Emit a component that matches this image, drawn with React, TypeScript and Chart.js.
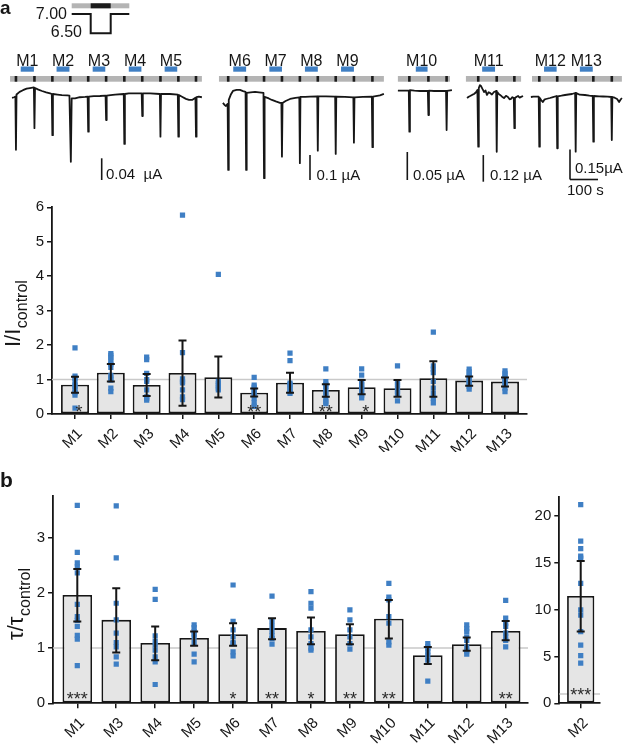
import React, { useEffect, useRef } from "react";
import { Chart, registerables } from "chart.js";

Chart.register(...registerables);

const FONT = "'Liberation Sans', Arial, Helvetica, sans-serif";
const INK = "#161616";
const BLUE = "#3f7fc4";
const BAR_FILL = "#e5e5e5";
const REF_GREY = "#c9c9c9";
const PROTO_GREY = "#b4b4b4";
const STAR_INK = "#2b2b2b";

// ================= Panel a: example recordings =================
// time in s, current in µA relative to each recording's baseline
const trace1 = [[43,-0.002],[50,-0.001],[55,0.0],[57,-0.098],[59,0.004],[70,0.009],[82,0.012],[95,0.015],[107,0.016],[121,0.017],[123,-0.058],[125,0.016],[137,0.013],[150,0.0105],[165,0.008],[179,0.006],[185,0.005],[187,-0.071],[189,0.005],[205,0.004],[221,0.003],[240,0.0025],[248,0.002],[253,-0.12],[256,-0.003],[268,-0.003],[285,-0.001],[304,-0.0005],[313,0.0],[315,-0.0645],[317,0.0],[335,0.001],[357,0.0013],[377,0.002],[379,-0.043],[381,0.002],[395,0.003],[411,0.004],[442,0.005],[444,-0.087],[446,0.005],[460,0.006],[475,0.006],[506,0.006],[508,-0.0356],[510,0.006],[536,0.006],[571,0.005],[573,-0.0737],[575,0.005],[590,0.005],[607,0.005],[635,0.004],[637,-0.0737],[639,0.003],[650,0.0],[664,-0.004],[675,-0.006],[686,-0.006],[698,-0.002],[700,-0.0737],[702,-0.001],[710,0.0],[721,-0.001]];
const trace2 = [[796,-0.025],[802,-0.033],[807,-0.037],[813,-0.029],[815,-0.293],[817,-0.013],[825,0.01],[832,0.023],[845,0.027],[857,0.027],[868,0.022],[877,0.019],[879,-0.293],[881,0.015],[895,0.017],[911,0.019],[925,0.017],[941,0.015],[943,-0.326],[945,-0.001],[960,-0.007],[971,-0.013],[985,-0.019],[1000,-0.025],[1005,-0.025],[1007,-0.24],[1009,-0.025],[1020,-0.017],[1036,-0.009],[1055,-0.005],[1069,-0.003],[1071,-0.266],[1073,-0.001],[1090,-0.001],[1107,0.0],[1133,0.001],[1135,-0.216],[1137,0.001],[1164,0.001],[1197,0.0],[1199,-0.229],[1201,0.0],[1232,-0.001],[1262,-0.003],[1264,-0.184],[1266,-0.003],[1296,-0.001],[1328,0.0],[1330,-0.202],[1332,0.0],[1357,0.005],[1371,0.011]];
const trace3 = [[1421,0.0],[1440,0.0],[1460,0.0],[1462,-0.0732],[1464,0.001],[1480,0.0],[1500,-0.0005],[1528,-0.0005],[1530,-0.0434],[1532,0.0],[1550,-0.0005],[1571,-0.0005],[1593,-0.0005],[1595,-0.0702],[1597,-0.0005],[1614,0.001]];
const trace4 = [[1668,-0.006],[1674,0.0],[1679,0.003],[1686,0.008],[1693,0.012],[1700,0.02],[1705,0.03],[1707,0.03],[1708,-0.225],[1710,0.039],[1714,0.052],[1718,0.048],[1723,0.035],[1729,0.021],[1734,0.028],[1739,0.008],[1745,0.02],[1750,0.017],[1757,0.01],[1764,0.021],[1770,0.024],[1772,0.026],[1774,-0.248],[1776,0.021],[1780,0.014],[1786,0.008],[1793,0.0],[1800,-0.006],[1807,0.004],[1814,-0.001],[1820,-0.012],[1825,-0.01],[1830,-0.002],[1835,-0.006],[1837,-0.142],[1839,-0.006],[1845,0.0],[1850,0.003],[1856,-0.004],[1861,-0.001],[1868,0.003]];
const trace5 = [[1896,-0.0015],[1905,0.0],[1914,0.0],[1924,0.0],[1926,-0.25],[1928,-0.0065],[1934,-0.02],[1939,-0.0265],[1944,-0.015],[1950,-0.0115],[1964,-0.0065],[1975,-0.002],[1988,0.0035],[1990,-0.258],[1992,0.002],[2005,0.005],[2018,0.0085],[2030,0.011],[2043,0.0135],[2054,0.0185],[2056,-0.275],[2058,0.0185],[2070,0.01],[2089,0.0085],[2105,0.005],[2117,0.0035],[2119,-0.225],[2121,0.0035],[2140,0.002],[2154,0.001],[2170,0.0],[2183,-0.0015],[2185,-0.2165],[2187,-0.0015],[2195,-0.005],[2204,-0.0115],[2211,-0.0265],[2216,-0.015],[2221,-0.0065]];

// pH 6.5 pulse times (s)
const pulses1 = [57,123,187,251,315,379,444,508,573,637,700];
const pulses2 = [815,879,943,1007,1071,1135,1199,1264,1330];
const pulses3 = [1462,1530,1595];
const pulses4 = [1708,1774,1837];
const pulses5 = [1926,1990,2056,2119,2185];
// recording (grey protocol bar) extents (s)
const recordings = [[36,721],[782,1371],[1421,1607],[1664,1861],[1900,2221]];
// modulator application windows (s)
const modLabels = ["M1","M2","M3","M4","M5","M6","M7","M8","M9","M10","M11","M12","M13"];
const modWindows = [[74,121],[202,248],[331,376],[460,505],[588,633],[833,879],[962,1007],[1089,1135],[1218,1264],[1485,1527],[1722,1768],[1943,1988],[2071,2117]];
// scale bars
const scaleBarUA = [0.04, 0.1, 0.05, 0.12, 0.15];
const scaleBarText = ["0.04  µA", "0.1 µA", "0.05 µA", "0.12 µA", "0.15µA"];
const timeBarS = 100;
const timeBarText = "100 s";
const phHigh = "7.00";
const phLow = "6.50";

// ================= Panel a: I / I_control =================
const catsA = ["M1","M2","M3","M4","M5","M6","M7","M8","M9","M10","M11","M12","M13"];
const meanA = [0.85,1.2,0.84,1.19,1.07,0.62,0.91,0.7,0.78,0.75,1.04,0.97,0.94];
const loA = [0.62,0.94,0.52,0.24,0.48,0.51,0.62,0.5,0.57,0.5,0.5,0.82,0.8];
const hiA = [1.08,1.45,1.16,2.13,1.67,0.74,1.2,0.86,0.99,0.99,1.53,1.09,1.06];
const pointsA = [
  [1.92,1.1,1.04,0.94,0.84,0.79,0.7,0.62,0.55,0.17],
  [1.75,1.7,1.63,1.55,1.45,1.35,1.12,1.05,0.98,0.75,0.65],
  [1.65,1.58,1.18,1.0,0.95,0.7,0.5,0.45,0.4],
  [5.77,1.78,1.02,0.95,0.9,0.7,0.5,0.42],
  [4.05,0.95,0.88,0.82,0.75,0.7],
  [1.06,0.84,0.78,0.7,0.62,0.55,0.46,0.33,0.22],
  [1.77,1.55,0.9,0.85,0.8,0.72,0.65,0.6],
  [1.31,0.94,0.86,0.8,0.7,0.62,0.55,0.45,0.35,0.3],
  [1.31,1.13,0.95,0.85,0.8,0.72,0.65,0.55,0.47],
  [1.4,0.92,0.85,0.75,0.65,0.6,0.38],
  [2.38,1.4,1.3,1.2,0.95,0.75,0.6,0.45,0.32],
  [1.3,1.22,1.15,1.08,1.0,0.94,0.88,0.8,0.72],
  [1.25,1.18,1.12,1.05,1.0,0.92,0.85,0.75,0.65],
];
const starsA = ["*","","","","","**","","**","*","","","",""];

// ================= Panel b: tau / tau_control =================
const catsB = ["M1","M3","M4","M5","M6","M7","M8","M9","M10","M11","M12","M13"];
const meanB = [1.96,1.51,1.09,1.18,1.25,1.36,1.31,1.25,1.53,0.87,1.07,1.31];
const loB = [1.48,0.92,0.78,1.04,1.04,1.16,1.07,1.07,1.17,0.71,0.95,1.14];
const hiB = [2.43,2.08,1.39,1.3,1.45,1.54,1.55,1.43,1.87,1.02,1.19,1.49];
const pointsB = [
  [3.58,2.73,2.54,2.47,2.36,1.79,1.57,1.5,1.39,1.23,1.16,0.68],
  [3.57,2.63,1.81,1.51,1.27,1.1,1.02,0.84,0.71],
  [2.06,1.88,1.22,1.12,1.05,0.96,0.84,0.75,0.34],
  [1.42,1.37,1.3,1.25,1.2,1.1,0.89,0.75],
  [2.14,1.48,1.33,1.2,1.1,1.08,0.93,0.86],
  [1.94,1.48,1.39,1.3,1.22,1.17,1.07],
  [2.02,1.81,1.72,1.33,1.2,1.08,1.0,0.96],
  [1.69,1.51,1.33,1.2,1.08,0.98],
  [2.17,1.92,1.87,1.57,1.45,1.11,1.05],
  [1.08,1.02,0.99,0.93,0.87,0.78,0.4],
  [1.42,1.35,1.3,1.2,1.14,1.02,0.95,0.89],
  [1.86,1.54,1.45,1.39,1.27,1.2,1.14,1.02],
];
const starsB = ["***","","","","*","**","*","**","**","","","**"];

const catsM2 = ["M2"];
const meanM2 = [11.46];
const loM2 = [7.65];
const hiM2 = [15.2];
const pointsM2 = [[21.2,17.3,16.5,15.7,15.5,12.8,9.96,9.4,7.65,6.2,5.1,4.3]];
const starsM2 = ["***"];

// ================= layout / style =================
const PX_PER_S = 0.28;
const TRACE_W = 625;
const TRACE_H = 200;
const traceAxes = [
  { base: 96.7, k: 542.5 },
  { base: 96.7, k: 250 },
  { base: 90.7, k: 560 },
  { base: 96.7, k: 222 },
  { base: 96.7, k: 200 },
];
const scaleBarPos = [
  { x: 101.7, bottom: 180, tx: 106, ty: 178.5 },
  { x: 310, bottom: 180, tx: 316.5, ty: 180 },
  { x: 407.3, bottom: 180, tx: 413, ty: 180 },
  { x: 483.3, bottom: 181.7, tx: 490, ty: 180 },
  { x: 570, bottom: 179.5, tx: 575, ty: 173 },
];

function TraceCanvas() {
  const ref = useRef<HTMLCanvasElement>(null);
  useEffect(() => {
    const traces = [trace1, trace2, trace3, trace4, trace5];
    const pulses = [...pulses1, ...pulses2, ...pulses3, ...pulses4, ...pulses5];
    const scales: any = {
      x: { type: "linear", display: false, min: 0, max: TRACE_W / PX_PER_S },
    };
    traceAxes.forEach((ax, i) => {
      scales["y" + i] = {
        type: "linear",
        display: false,
        min: -(TRACE_H - ax.base) / ax.k,
        max: ax.base / ax.k,
      };
    });
    const decor = {
      id: "traceDecor",
      afterDraw(chart: any) {
        const { ctx } = chart;
        const xs = chart.scales.x;
        const px = (t: number) => xs.getPixelForValue(t);
        ctx.save();
        // protocol bars
        ctx.fillStyle = PROTO_GREY;
        recordings.forEach(([a, b]) => ctx.fillRect(px(a), 76, px(b) - px(a), 5.7));
        ctx.fillStyle = "#1c1c1c";
        pulses.forEach((t) => ctx.fillRect(px(t) - 1.3, 76, 2.6, 5.7));
        ctx.fillStyle = BLUE;
        modWindows.forEach(([a, b]) => ctx.fillRect(px(a), 66.5, px(b) - px(a), 5.2));
        ctx.fillStyle = INK;
        ctx.font = `16px ${FONT}`;
        ctx.textAlign = "center";
        ctx.textBaseline = "alphabetic";
        modLabels.forEach((lab, i) => {
          const [a, b] = modWindows[i];
          ctx.fillText(lab, (px(a) + px(b)) / 2, 65.5);
        });
        // scale bars
        ctx.strokeStyle = INK;
        ctx.lineWidth = 1.6;
        ctx.font = `15px ${FONT}`;
        ctx.textAlign = "left";
        scaleBarUA.forEach((v, i) => {
          const ys = chart.scales["y" + i];
          const h = Math.abs(ys.getPixelForValue(0) - ys.getPixelForValue(v));
          const p = scaleBarPos[i];
          ctx.beginPath();
          ctx.moveTo(p.x, p.bottom);
          ctx.lineTo(p.x, p.bottom - h);
          ctx.stroke();
          ctx.fillText(scaleBarText[i], p.tx, p.ty);
        });
        const last = scaleBarPos[4];
        const w = px(timeBarS) - px(0);
        ctx.beginPath();
        ctx.moveTo(last.x, last.bottom);
        ctx.lineTo(last.x + w, last.bottom);
        ctx.stroke();
        ctx.fillText(timeBarText, 567, 195);
        // pH protocol inset
        ctx.fillStyle = PROTO_GREY;
        ctx.fillRect(71.7, 3.3, 57.6, 5);
        ctx.fillStyle = "#1c1c1c";
        ctx.fillRect(90.7, 3.3, 20, 5);
        ctx.lineWidth = 2;
        ctx.beginPath();
        ctx.moveTo(71.7, 14);
        ctx.lineTo(90.7, 14);
        ctx.lineTo(90.7, 33.3);
        ctx.lineTo(110.7, 33.3);
        ctx.lineTo(110.7, 14);
        ctx.lineTo(129.3, 14);
        ctx.stroke();
        ctx.fillStyle = INK;
        ctx.font = `16px ${FONT}`;
        ctx.textAlign = "right";
        ctx.fillText(phHigh, 67, 18.5);
        ctx.fillText(phLow, 82, 37);
        // panel letter
        ctx.textAlign = "left";
        ctx.font = `bold 19px ${FONT}`;
        ctx.fillText("a", 0, 13.5);
        ctx.restore();
      },
    };
    const chart = new Chart(ref.current!, {
      type: "line",
      data: {
        datasets: traces.map((tr, i) => ({
          data: tr.map(([t, v]) => ({ x: t, y: v })),
          xAxisID: "x",
          yAxisID: "y" + i,
          borderColor: INK,
          borderWidth: 1.8,
          borderJoinStyle: "round",
          pointRadius: 0,
          tension: 0,
          fill: false,
        })),
      },
      options: {
        animation: false,
        responsive: false,
        devicePixelRatio: 1,
        events: [],
        layout: { padding: 0 },
        scales,
        plugins: { legend: { display: false }, tooltip: { enabled: false } },
      } as any,
      plugins: [decor],
    } as any);
    return () => chart.destroy();
  }, []);
  return (
    <canvas
      ref={ref}
      width={TRACE_W}
      height={TRACE_H}
      style={{ position: "absolute", left: 0, top: 0, width: TRACE_W, height: TRACE_H }}
    />
  );
}

type Spec = {
  left: number; top: number; width: number; height: number;
  labels: string[]; mean: number[]; lo: number[]; hi: number[]; points: number[][]; stars: string[];
  xMin: number; xMax: number; yMax: number; yStep: number;
  yAxisW: number; xAxisH: number; padTop: number; padRight: number; barPct: number;
  singleStarDx: number; starBase: number;
  title?: { main: string; sub: string; x: number; y: number };
  letter?: { text: string; x: number; y: number };
};

function BarCanvas({ spec }: { spec: Spec }) {
  const ref = useRef<HTMLCanvasElement>(null);
  useEffect(() => {
    const p = spec;
    const overlay = {
      id: "overlay",
      beforeDatasetsDraw(chart: any) {
        const { ctx, chartArea } = chart;
        const y = chart.scales.y;
        const py = y.getPixelForValue(1);
        ctx.save();
        ctx.strokeStyle = REF_GREY;
        ctx.lineWidth = 1.5;
        ctx.beginPath();
        ctx.moveTo(chartArea.left, py);
        ctx.lineTo(chartArea.right, py);
        ctx.stroke();
        ctx.restore();
      },
      afterDatasetsDraw(chart: any) {
        const { ctx } = chart;
        const x = chart.scales.x;
        const y = chart.scales.y;
        ctx.save();
        ctx.strokeStyle = INK;
        ctx.lineWidth = 2;
        p.lo.forEach((lo, i) => {
          const cx = x.getPixelForValue(i);
          const y1 = y.getPixelForValue(lo);
          const y2 = y.getPixelForValue(p.hi[i]);
          ctx.beginPath();
          ctx.moveTo(cx, y1);
          ctx.lineTo(cx, y2);
          ctx.moveTo(cx - 4, y1);
          ctx.lineTo(cx + 4, y1);
          ctx.moveTo(cx - 4, y2);
          ctx.lineTo(cx + 4, y2);
          ctx.stroke();
        });
        ctx.fillStyle = STAR_INK;
        ctx.font = `18px ${FONT}`;
        ctx.textAlign = "center";
        ctx.textBaseline = "alphabetic";
        const y0 = y.getPixelForValue(0);
        p.stars.forEach((s, i) => {
          if (!s) return;
          const dx = s.length === 1 ? p.singleStarDx : 0;
          ctx.fillText(s, x.getPixelForValue(i) + dx, y0 + p.starBase);
        });
        ctx.restore();
      },
      afterDraw(chart: any) {
        const { ctx } = chart;
        ctx.save();
        ctx.fillStyle = INK;
        if (p.title) {
          ctx.translate(p.title.x, p.title.y);
          ctx.rotate(-Math.PI / 2);
          ctx.textAlign = "left";
          ctx.textBaseline = "alphabetic";
          ctx.font = `22px ${FONT}`;
          ctx.fillText(p.title.main, 0, 0);
          const w = ctx.measureText(p.title.main).width;
          ctx.font = `16px ${FONT}`;
          ctx.fillText(p.title.sub, w + 0.5, 7);
          ctx.setTransform(1, 0, 0, 1, 0, 0);
        }
        if (p.letter) {
          ctx.font = `bold 21px ${FONT}`;
          ctx.textAlign = "left";
          ctx.fillText(p.letter.text, p.letter.x, p.letter.y);
        }
        ctx.restore();
      },
    };
    const chart = new Chart(ref.current!, {
      type: "scatter",
      data: {
        datasets: [
          {
            type: "bar",
            data: p.mean.map((v, i) => ({ x: i, y: v })),
            backgroundColor: BAR_FILL,
            borderColor: INK,
            borderWidth: 1.8,
            borderSkipped: false,
            categoryPercentage: 1,
            barPercentage: p.barPct,
            order: 2,
          },
          {
            type: "scatter",
            data: p.points.flatMap((arr, i) => arr.map((v) => ({ x: i, y: v }))),
            pointStyle: "rect",
            pointRadius: 3.7,
            backgroundColor: BLUE,
            borderWidth: 0,
            order: 1,
          },
        ],
      },
      options: {
        animation: false,
        responsive: false,
        devicePixelRatio: 1,
        events: [],
        layout: { padding: { left: 0, top: p.padTop, right: p.padRight, bottom: 0 } },
        plugins: { legend: { display: false }, tooltip: { enabled: false } },
        scales: {
          x: {
            type: "linear",
            min: p.xMin,
            max: p.xMax,
            offset: false,
            afterBuildTicks: (s: any) => {
              s.ticks = p.labels.map((_, i) => ({ value: i }));
            },
            afterFit: (s: any) => {
              s.height = p.xAxisH;
            },
            ticks: {
              autoSkip: false,
              maxRotation: 45,
              minRotation: 45,
              padding: 6,
              labelOffset: 5,
              color: INK,
              font: { family: FONT, size: 15 },
              callback: (v: any) => p.labels[Math.round(v)] ?? "",
            },
            grid: {
              display: true,
              drawOnChartArea: false,
              drawTicks: true,
              tickLength: 5,
              color: INK,
              lineWidth: 1.5,
              offset: false,
            },
            border: { display: true, color: INK, width: 1.8 },
          },
          y: {
            type: "linear",
            min: 0,
            max: p.yMax,
            afterFit: (s: any) => {
              s.width = p.yAxisW;
            },
            ticks: {
              stepSize: p.yStep,
              includeBounds: false,
              padding: 3,
              color: INK,
              font: { family: FONT, size: 15 },
            },
            grid: {
              display: true,
              drawOnChartArea: false,
              drawTicks: true,
              tickLength: 5,
              color: INK,
              lineWidth: 1.5,
            },
            border: { display: true, color: INK, width: 1.8 },
          },
        },
      } as any,
      plugins: [overlay],
    } as any);
    return () => chart.destroy();
  }, [spec]);
  return (
    <canvas
      ref={ref}
      width={spec.width}
      height={spec.height}
      style={{ position: "absolute", left: spec.left, top: spec.top, width: spec.width, height: spec.height }}
    />
  );
}

const panelA: Spec = {
  left: 0, top: 190, width: 625, height: 262,
  labels: catsA, mean: meanA, lo: loA, hi: hiA, points: pointsA, stars: starsA,
  xMin: -0.642, xMax: 12.614, yMax: 6, yStep: 1,
  yAxisW: 52, xAxisH: 38, padTop: 17.3, padRight: 98, barPct: 0.78,
  singleStarDx: 4, starBase: 4.3,
  title: { main: "I/I", sub: "control", x: 20, y: 157 },
};

const panelB: Spec = {
  left: 0, top: 450, width: 540, height: 297,
  labels: catsB, mean: meanB, lo: loB, hi: hiB, points: pointsB, stars: starsB,
  xMin: -0.624, xMax: 11.573, yMax: 3.75, yStep: 1,
  yAxisW: 53, xAxisH: 43.7, padTop: 46, padRight: 12, barPct: 0.76,
  singleStarDx: 0, starBase: 1.3,
  title: { main: "τ/τ", sub: "control", x: 23, y: 190 },
  letter: { text: "b", x: 0, y: 37 },
};

const panelM2: Spec = {
  left: 530, top: 450, width: 95, height: 297,
  labels: catsM2, mean: meanM2, lo: loM2, hi: hiM2, points: pointsM2, stars: starsM2,
  xMin: -0.526, xMax: 0.474, yMax: 22.05, yStep: 5,
  yAxisW: 29.3, xAxisH: 43.7, padTop: 46.7, padRight: 25, barPct: 0.67,
  singleStarDx: 0, starBase: -2.7,
};

export default function App() {
  return (
    <div style={{ position: "absolute", left: 0, top: 0, width: 625, height: 747, background: "#fff" }}>
      <TraceCanvas />
      <BarCanvas spec={panelA} />
      <BarCanvas spec={panelB} />
      <BarCanvas spec={panelM2} />
    </div>
  );
}
